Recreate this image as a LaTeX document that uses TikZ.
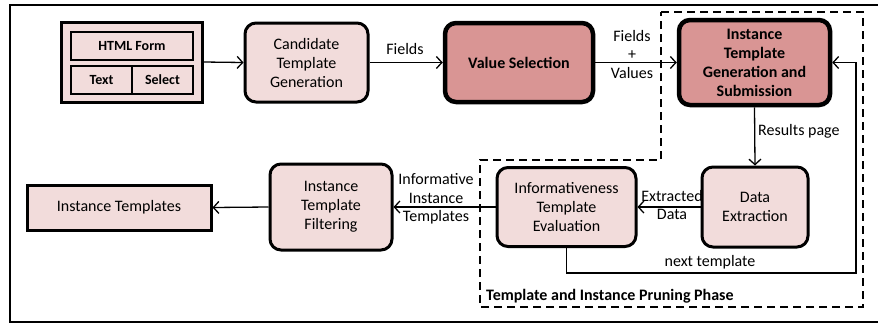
\documentclass[tikz,border=0pt]{standalone}
\usepackage{fontspec}
\setmainfont{Carlito}
\usetikzlibrary{arrows.meta}
\definecolor{lightred}{HTML}{F2DCDB}
\definecolor{darkred}{HTML}{D99594}
\tikzset{
  box/.style={draw=black, fill=lightred, line width=3pt, rounded corners=11pt, align=center, inner sep=0pt, font=\fontsize{16}{19}\selectfont},
  boldbox/.style={box, fill=darkred, line width=4.5pt, font=\fontsize{16}{19}\selectfont\bfseries},
  sqbox/.style={draw=black, fill=lightred, line width=3pt, align=center, inner sep=0pt, font=\fontsize{16}{19}\selectfont},
  cell/.style={draw=black, fill=lightred, line width=1.2pt, align=center, inner sep=0pt, font=\fontsize{14}{16}\selectfont\bfseries},
  arr/.style={draw=black, line width=1.3pt, -{Straight Barb[length=5.5pt,width=12pt,line width=1.3pt]}},
  lbl/.style={align=center, inner sep=0pt, font=\fontsize{16}{18.5}\selectfont},
  phase/.style={draw=black, line width=2.2pt, dash pattern=on 8pt off 5pt},
}
\begin{document}
\begin{tikzpicture}[x=1pt, y=-1pt]
\useasboundingbox (0,0) rectangle (878,325);
\fill[white] (0,0) rectangle (878,325);
% outer frame (right side lies outside the picture)
\draw[line width=2.2pt] (895,5) -- (10,5) -- (10,322) -- (895,322);
% dashed phase region
\draw[phase] (661,12) -- (863,12) -- (863,307) -- (480,307) -- (480,160) -- (661,160) -- cycle;
\node[anchor=west, inner sep=0pt, font=\fontsize{16}{18}\selectfont\bfseries] (phaselbl) at (486,296) {Template and Instance Pruning Phase};

% HTML form group
\node[sqbox, minimum width=141pt, minimum height=80pt] (html) at (131.5,62) {};
\node[cell, minimum width=122pt, minimum height=28pt] (hform) at (132,46) {HTML Form};
\node[cell, minimum width=61pt, minimum height=28pt] (htext) at (101.5,80) {Text};
\node[cell, minimum width=61pt, minimum height=28pt] (hsel) at (162.5,80) {Select};

% main nodes
\node[box, minimum width=123pt, minimum height=79pt] (cand) at (306.5,62.5) {Candidate\\Template\\Generation};
\node[boldbox, minimum width=148pt, minimum height=79pt] (vs) at (519,62.5) {Value Selection};
\node[boldbox, minimum width=151pt, minimum height=85pt] (itg) at (754.5,62.5) {Instance\\Template\\Generation and\\Submission};
\node[box, minimum width=106pt, minimum height=80pt] (de) at (755,207) {Data\\Extraction};
\node[box, minimum width=139pt, minimum height=79pt] (ie) at (566.5,207) {Informativeness\\Template\\Evaluation};
\node[box, minimum width=122pt, minimum height=86pt] (filt) at (331,207) {Instance\\Template\\Filtering};
\node[sqbox, minimum width=184pt, minimum height=45pt] (it) at (119,207.5) {Instance Templates};

% connectors
\draw[arr] (html.east) -- (cand.west);
\draw[arr] (cand.east) -- (vs.west);
\draw[arr] (vs.east) -- (itg.west);
\draw[arr] (itg.south) -- (de.north);
\draw[arr] (de.west) -- (ie.east);
\draw[arr] (ie.west) -- (filt.west -| filt.east);
\draw[arr] (filt.west) -- (it.east);
\coordinate (nt) at (856,273);
\draw[arr] (ie.south) |- (nt) |- (itg.east);

% labels
\node[lbl] (lfields) at (405,49) {Fields};
\node[lbl] (lfv) at (632,54) {Fields\\+\\Values};
\node[lbl, anchor=west] (lres) at (758,131) {Results page};
\node[lbl] (lext) at (672,205) {Extracted\\Data};
\node[lbl] (linf) at (436,199) {Informative\\Instance\\Templates};
\node[lbl] (lnext) at (710,262) {next template};
\end{tikzpicture}
\end{document}
